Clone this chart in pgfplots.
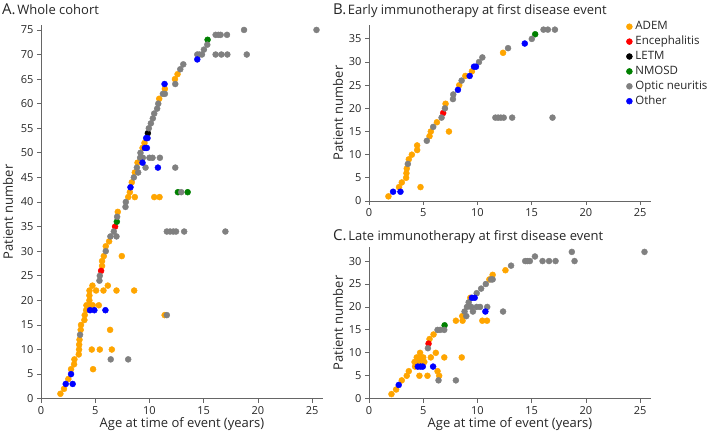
\documentclass[border=0pt]{standalone}
\usepackage{fontspec}
\setmainfont{Open Sans}
\usepackage{pgfplots}
\pgfplotsset{compat=1.18}

\definecolor{axisgray}{gray}{0.4}
\definecolor{txt}{gray}{0.15}
\definecolor{adem}{RGB}{255,165,0}
\definecolor{nmosd}{RGB}{0,128,0}
\definecolor{optic}{RGB}{128,128,128}

\pgfplotsset{
  panel/.style={
    scale only axis, clip=false, anchor=south west,
    axis x line=bottom, axis y line=left,
    axis line style={-, draw=axisgray, line width=0.8pt},
    tick style={draw=axisgray, line width=0.8pt},
    tick align=outside, major tick length=4pt,
    xmin=0, xmax=26, ymin=0,
    xtick={0,5,...,25}, ytick distance=5,
    ticklabel style={font=\fontsize{11}{13}\selectfont, text=txt},
    label style={font=\fontsize{13}{15}\selectfont, text=txt},
    /pgf/number format/assume math mode=true,
  },
  cat/.style={only marks, mark=*, mark size=3pt, color=#1,
    legend image code/.code={\draw[##1] plot coordinates {(0pt,0pt)};}},
}
\newcommand{\ttl}[2]{{\fontsize{15}{18}\selectfont #1}\,{\fontsize{13}{15}\selectfont #2}}

\begin{document}
\begin{tikzpicture}
\path[use as bounding box] (0,0) rectangle (714pt,432pt);

% ---------------- A. whole cohort ----------------
\begin{axis}[panel, at={(41pt,33.3pt)}, width=282pt, height=373.7pt, ymax=76,
  ylabel={Patient number}, ylabel style={at={(axis description cs:-0.117,0.5)}, anchor=center},
  xlabel={Age at time of event (years)}, xlabel style={at={(axis description cs:0.5,0)}, anchor=center, yshift=-25pt}]
% ADEM
\addplot[cat=adem] coordinates {
(1.79,1) (2.12,2) (2.52,4) (2.77,6) (4.8,6) (3.05,7) (3.08,8) (3.48,9) (3.51,10) (4.68,10) (5.42,10) (6.53,10)
(3.52,11) (3.55,12) (3.66,14) (6.37,14) (3.69,15) (4.0,16) (4.03,17) (11.4,17) (4.16,18) (4.19,19) (4.47,19) (4.77,19) (5.33,19)
(4.46,20) (4.46,21) (4.47,22) (5.08,22) (5.76,22) (6.96,22) (8.59,22) (4.74,23) (6.16,23) (5.63,27) (5.63,28) (5.79,29) (7.45,29)
(5.97,31) (6.28,32) (7.08,38) (8.04,41) (8.65,41) (10.44,41) (10.93,41) (8.19,42) (8.37,44) (8.65,46) (8.9,48) (9.36,51)
(9.54,52) (10.9,61) (11.42,63) (12.35,65) (12.59,66)};
% Encephalitis
\addplot[cat=red] coordinates {(5.54,26) (6.83,35)};
% LETM
\addplot[cat=black] coordinates {(9.85,54)};
% NMOSD
\addplot[cat=nmosd] coordinates {(6.99,36) (12.62,42) (13.52,42) (15.36,73)};
% Optic neuritis
\addplot[cat=optic] coordinates {
(6.43,8) (8.04,8) (3.6,13) (11.6,17) (5.39,24) (5.42,25) (5.97,30) (6.40,33) (6.96,33) (6.71,34) (11.6,34) (11.9,34)
(12.2,34) (12.45,34) (13.2,34) (17.0,34) (7.02,37) (7.79,39) (7.82,40) (12.93,42) (8.56,45) (8.96,46) (8.84,47) (9.64,47)
(12.38,47) (9.14,49) (9.39,49) (10.0,49) (10.28,49) (10.96,49) (9.17,50) (9.94,55) (10.13,56) (10.31,57) (10.44,58)
(10.71,59) (10.81,60) (11.24,62) (11.42,62) (12.38,64) (12.84,67) (13.12,68) (14.41,70) (14.6,70) (14.84,70) (16.1,70)
(16.63,70) (17.18,70) (18.97,70) (15.02,71) (15.33,72) (16.1,74) (16.35,74) (16.56,74) (17.15,74) (18.72,75) (25.4,75)};
% Other
\addplot[cat=blue] coordinates {
(2.28,3) (2.92,3) (2.77,5) (4.52,18) (4.92,18) (5.94,18) (8.25,43) (10.78,47) (9.36,48) (9.58,51) (9.76,51)
(9.7,53) (9.82,53) (11.39,64) (14.41,69)};
\end{axis}

% ---------------- B. early immunotherapy ----------------
\begin{axis}[panel, at={(369pt,231pt)}, width=282pt, height=176pt, ymax=38,
  ylabel={Patient number}, ylabel style={at={(axis description cs:-0.11,0.5)}, anchor=center},
  legend style={at={(axis description cs:0.912,1)}, anchor=north west, yshift=4pt,
    draw=none, fill=none, inner sep=0pt, row sep=3.9pt,
    font=\fontsize{11.5}{13}\selectfont, text=txt,
    nodes={inner ysep=0pt, inner xsep=3pt, text height=8.5pt, text depth=2.5pt}},
  legend cell align=left]
\addplot[cat=adem] coordinates {
(1.79,1) (2.77,3) (4.75,3) (3.02,4) (3.42,5) (3.45,6) (3.48,7) (3.67,9) (3.95,10) (4.44,11) (4.44,12) (5.58,14)
(5.70,15) (7.37,15) (6.26,17) (7.06,21) (8.32,25) (8.88,27) (9.49,28) (12.36,32)};
\addplot[cat=red] coordinates {(6.84,19)};
\addlegendimage{cat=black}
\addplot[cat=nmosd] coordinates {(15.32,36)};
\addplot[cat=optic] coordinates {
(3.58,8) (5.33,13) (5.92,16) (6.69,18) (11.65,18) (11.9,18) (12.15,18) (12.42,18) (13.2,18) (16.92,18) (7.0,20)
(7.74,22) (7.77,23) (8.54,26) (10.14,30) (10.45,31) (12.82,33) (15.01,35) (16.09,37) (16.49,37) (17.14,37)};
\addplot[cat=blue] coordinates {(2.22,2) (2.9,2) (8.2,24) (9.28,27) (9.68,29) (9.86,29) (14.36,34)};
\legend{ADEM, Encephalitis, LETM, NMOSD, Optic neuritis, Other}
\end{axis}

% ---------------- C. late immunotherapy ----------------
\begin{axis}[panel, at={(369pt,33.3pt)}, width=282pt, height=151.4pt, ymax=33,
  ylabel={Patient number}, ylabel style={at={(axis description cs:-0.11,0.5)}, anchor=center},
  xlabel={Age at time of event (years)}, xlabel style={at={(axis description cs:0.5,0)}, anchor=center, yshift=-25pt}]
\addplot[cat=adem] coordinates {
(2.07,1) (2.5,2) (3.02,4) (3.48,5) (4.65,5) (5.39,5) (6.47,5) (3.67,6) (6.32,6) (4.25,7) (4.2,8) (4.45,8) (4.75,8)
(5.1,8) (4.4,9) (4.74,9) (5.0,9) (5.7,9) (6.94,9) (8.55,9) (4.71,10) (6.16,10) (5.58,13) (5.95,14) (8.01,17) (8.63,17)
(10.45,17) (10.88,17) (8.6,18) (9.34,22) (11.1,26) (11.4,27) (12.58,28)};
\addplot[cat=red] coordinates {(5.49,12)};
\addplot[cat=nmosd] coordinates {(6.97,16)};
\addplot[cat=optic] coordinates {
(6.41,4) (8.01,4) (5.43,11) (6.32,15) (6.56,15) (6.94,15) (8.97,18) (8.81,19) (9.58,19) (12.36,19) (9.03,20) (9.43,20)
(9.93,20) (10.24,20) (10.9,20) (9.19,21) (9.93,23) (10.34,24) (10.77,25) (11.25,26) (11.4,26) (13.1,29) (14.4,30)
(14.6,30) (14.83,30) (16.0,30) (16.6,30) (17.2,30) (18.95,30) (15.3,31) (18.7,32) (25.4,32)};
\addplot[cat=blue] coordinates {(2.74,3) (4.5,7) (4.75,7) (4.96,7) (5.91,7) (10.73,19) (9.49,22) (9.74,22)};
\end{axis}

% panel titles
\node[anchor=base west, inner sep=0pt, text=txt] at (2pt,417pt) {\ttl{A.}{Whole cohort}};
\node[anchor=base west, inner sep=0pt, text=txt] at (333pt,417pt) {\ttl{B.}{Early immunotherapy at first disease event}};
\node[anchor=base west, inner sep=0pt, text=txt] at (333pt,191.3pt) {\ttl{C.}{Late immunotherapy at first disease event}};
\end{tikzpicture}
\end{document}
